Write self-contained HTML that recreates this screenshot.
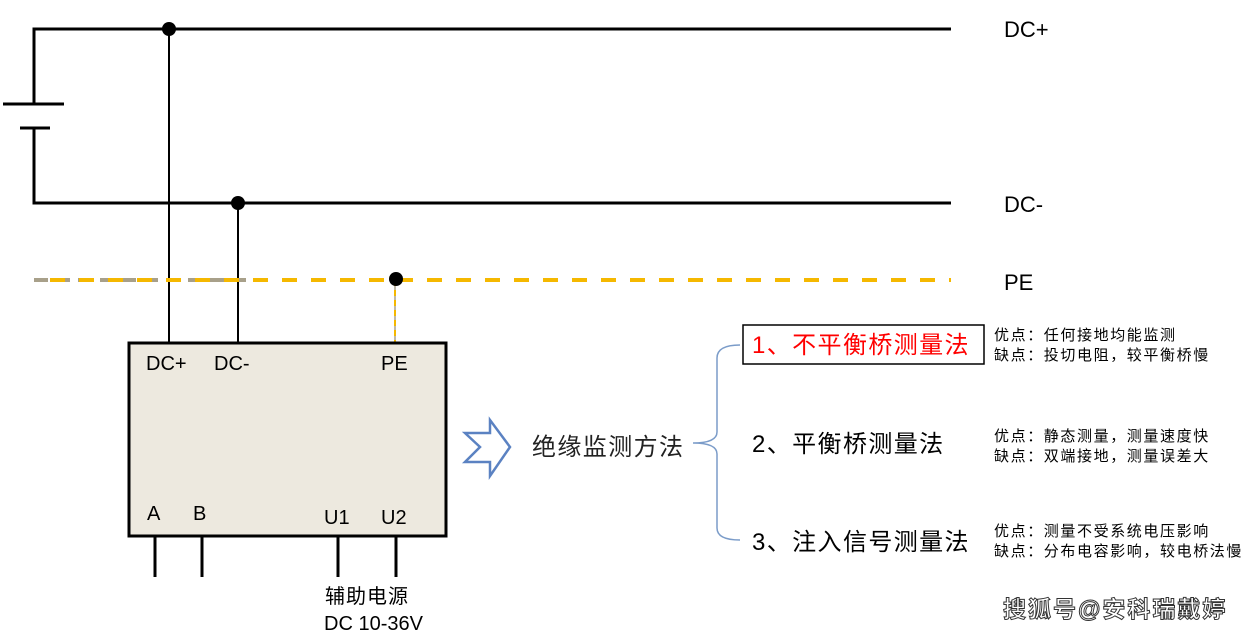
<!DOCTYPE html>
<html><head><meta charset="utf-8"><style>
html,body{margin:0;padding:0;background:#fff;}
svg{display:block;}
text{font-family:"Liberation Sans","Noto Sans CJK SC",sans-serif;}
</style></head><body>
<svg width="1259" height="638" viewBox="0 0 1259 638" xmlns="http://www.w3.org/2000/svg">
<g stroke="#000" fill="none">
<polyline points="951,29 34,29 34,104" stroke-width="3"/>
<line x1="3" y1="104" x2="64" y2="104" stroke-width="3"/>
<line x1="20" y1="128" x2="50" y2="128" stroke-width="3"/>
<polyline points="34,128 34,203 951,203" stroke-width="3"/>
<line x1="169" y1="29" x2="169" y2="342" stroke-width="2"/>
<line x1="238" y1="203" x2="238" y2="342" stroke-width="2"/>
</g>
<line x1="34" y1="280" x2="260" y2="280" stroke="#a8a08a" stroke-width="4" stroke-dasharray="14,8"/>
<line x1="50" y1="280" x2="951" y2="280" stroke="#f5b800" stroke-width="4" stroke-dasharray="15,14"/>
<line x1="395" y1="280" x2="395" y2="342" stroke="#a8a08a" stroke-width="1.5"/>
<line x1="395" y1="280" x2="395" y2="342" stroke="#f5b800" stroke-width="2" stroke-dasharray="6,4"/>
<circle cx="169" cy="29" r="7" fill="#000"/>
<circle cx="238" cy="203" r="7" fill="#000"/>
<circle cx="396" cy="279" r="7" fill="#000"/>
<rect x="129" y="343" width="317" height="193" fill="#ede9df" stroke="#000" stroke-width="3"/>
<g stroke="#000" stroke-width="3">
<line x1="155" y1="536" x2="155" y2="577"/>
<line x1="202" y1="536" x2="202" y2="577"/>
<line x1="338" y1="536" x2="338" y2="577"/>
<line x1="396" y1="536" x2="396" y2="577"/>
</g>
<g font-size="20" fill="#000">
<text x="146" y="370">DC+</text>
<text x="214" y="370">DC-</text>
<text x="381" y="370">PE</text>
<text x="147" y="520">A</text>
<text x="193" y="520">B</text>
<text x="324" y="524">U1</text>
<text x="381" y="524">U2</text>
<text x="325" y="603" letter-spacing="1">辅助电源</text>
<text x="324" y="630">DC 10-36V</text>
</g>
<g font-size="22" fill="#000">
<text x="1004" y="37">DC+</text>
<text x="1004" y="212">DC-</text>
<text x="1004" y="290">PE</text>
</g>
<polygon points="465,433 490,433 490,420 510,447 490,476 490,462 465,462 480,447" fill="#fff" stroke="#5b82c2" stroke-width="2.5" stroke-linejoin="miter"/>
<text x="532" y="455" font-size="24" fill="#222" letter-spacing="1.4">绝缘监测方法</text>
<path d="M740,345 Q717,345 717,358 L717,432 Q717,443 693,443 Q717,443 717,454 L717,528 Q717,540 740,540" fill="none" stroke="#7b9cc9" stroke-width="1.5"/>
<rect x="743" y="325" width="241" height="39" fill="#fff" stroke="#000" stroke-width="1.5"/>
<text x="752" y="353" font-size="24" fill="#ff0000" letter-spacing="1.4">1、不平衡桥测量法</text>
<text x="752" y="452" font-size="24" fill="#000" letter-spacing="1.4">2、平衡桥测量法</text>
<text x="752" y="550" font-size="24" fill="#000" letter-spacing="1.4">3、注入信号测量法</text>
<g font-size="15" fill="#000" letter-spacing="1.6">
<text x="994" y="340">优点：任何接地均能监测</text>
<text x="994" y="360">缺点：投切电阻，较平衡桥慢</text>
<text x="994" y="441">优点：静态测量，测量速度快</text>
<text x="994" y="461">缺点：双端接地，测量误差大</text>
<text x="994" y="536">优点：测量不受系统电压影响</text>
<text x="994" y="556">缺点：分布电容影响，较电桥法慢</text>
</g>
<text x="1003" y="617" font-size="23" font-weight="bold" fill="#fff" stroke="#333" stroke-width="1" letter-spacing="2">搜狐号@安科瑞戴婷</text>
</svg>
</body></html>
